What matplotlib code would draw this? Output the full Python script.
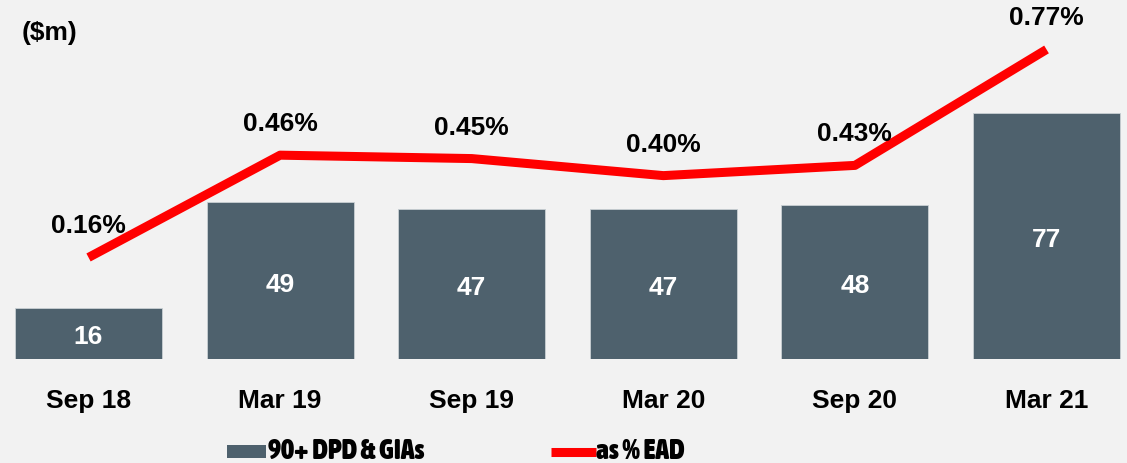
import matplotlib
matplotlib.use("Agg")
import matplotlib.pyplot as plt
from matplotlib import font_manager
from matplotlib.patches import Rectangle
from matplotlib.lines import Line2D

periods = ["Sep 18", "Mar 19", "Sep 19", "Mar 20", "Sep 20", "Mar 21"]
dpd_gia = [16, 49, 47, 47, 48, 77]          # $m
pct_ead = [0.16, 0.46, 0.45, 0.40, 0.43, 0.77]  # %

bg = "#F2F2F2"
bar_col = "#4E616D"
red = "#FF0000"

plt.rcParams["font.family"] = ["Liberation Sans", "DejaVu Sans"]
plt.rcParams["font.weight"] = "bold"


def _wt(f):
    w = f.weight
    if isinstance(w, str):
        return 700 if "bold" in w.lower() else 400
    return w


# upright bold narrow face for the legend, if one is installed
narrow = [f for f in font_manager.fontManager.ttflist
          if ("Narrow" in f.name or "Condensed" in f.name or f.stretch in ("condensed", "semi-condensed"))
          and _wt(f) >= 600 and f.style == "normal"]
narrow.sort(key=lambda f: (0 if "Liberation" in f.name else 1, f.name))
legend_font = dict(fname=narrow[0].fname) if narrow else None

W, H = 1127, 464
fig = plt.figure(figsize=(W / 100, H / 100), dpi=100, facecolor=bg)
# axes spans from top of figure down to bar baseline
ax = fig.add_axes([0, 1 - 360 / H, 1, 360 / H])
ax.set_facecolor(bg)

x = list(range(len(periods)))
ax.bar(x, dpd_gia, width=0.767, color=bar_col, edgecolor="#C9D0D4", linewidth=0.6)
ax.set_xlim(-0.462, 5.42)
ax.set_ylim(0, 112.5)
for xi, v in zip(x, dpd_gia):
    ax.annotate(f"{v}", (xi, v / 2), xytext=(0, -3), textcoords="offset pixels",
                ha="center", va="center", color="white", fontsize=19, fontweight="bold")

ax2 = ax.twinx()
ax2.plot(x, pct_ead, color=red, linewidth=6.5, solid_capstyle="butt", solid_joinstyle="round")
ax2.set_ylim(-0.1378, 0.918)
for xi, v in zip(x, pct_ead):
    ax2.annotate(f"{v:.2f}%", (xi, v), xytext=(0, 32), textcoords="offset pixels",
                 ha="center", va="center", fontsize=19, fontweight="bold", color="black")

for a in (ax, ax2):
    for s in a.spines.values():
        s.set_visible(False)
    a.set_yticks([])
ax.set_xticks(x)
ax.set_xticklabels(periods, fontsize=19, fontweight="bold")
ax.tick_params(axis="x", length=0, pad=21)

fig.text(22 / W, 1 - 33 / H, "($m)", ha="left", va="center", fontsize=19, fontweight="bold")

# legend
if legend_font:
    leg_kw = dict(fontproperties=font_manager.FontProperties(fname=legend_font["fname"], size=20))
else:
    leg_kw = dict(fontsize=15, fontweight="bold")
fig.patches.append(Rectangle((227 / W, 1 - 459 / H), 39 / W, 13 / H,
                             transform=fig.transFigure, facecolor=bar_col, edgecolor="none"))
fig.text(268 / W, 1 - 452 / H, "90+ DPD & GIAs", ha="left", va="center", **leg_kw)
fig.lines.append(Line2D([551 / W, 596 / W], [1 - 452.5 / H, 1 - 452.5 / H],
                        transform=fig.transFigure, color=red, linewidth=6.5,
                        solid_capstyle="butt"))
fig.text(596 / W, 1 - 452 / H, "as % EAD", ha="left", va="center", **leg_kw)

fig.savefig("out.png", dpi=100, facecolor=bg)
